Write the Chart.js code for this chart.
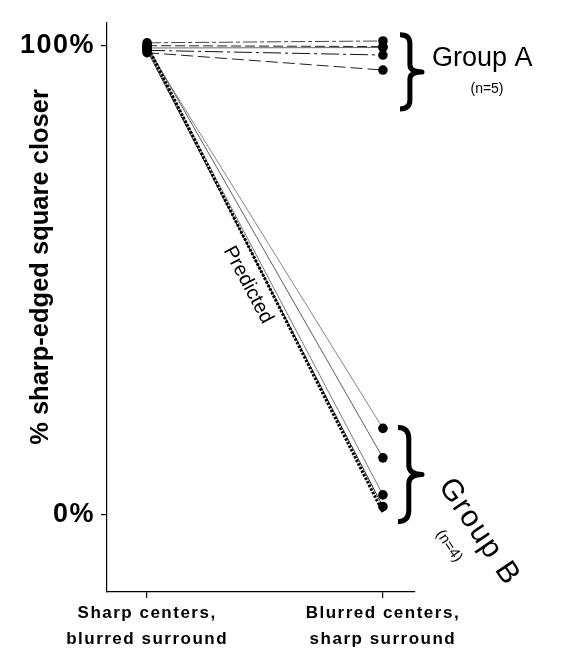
<!DOCTYPE html>
<html>
<head>
<meta charset="utf-8">
<script src="https://cdn.jsdelivr.net/npm/chart.js@4"></script>
<style>
  html, body { margin: 0; padding: 0; background: #fff; }
  #wrap { width: 563px; height: 660px; }
</style>
</head>
<body>
<div id="wrap"><canvas id="c" width="563" height="660"></canvas></div>
<script>
// ---- Data ----
const categories = [["Sharp centers,", "blurred surround"], ["Blurred centers,", "sharp surround"]];
const yTickValues = [0, 100];
const yTickLabels = ["0%", "100%"];
const yTitle = "% sharp-edged square closer";

// Group A (n=5): [condition 1, condition 2]
const groupA1 = [100.6, 101.0];
const groupA2 = [100.0, 99.8];
const groupA3 = [99.5, 99.6];
const groupA4 = [99.0, 98.0];
const groupA5 = [98.5, 94.8];
// Group B (n=4)
const groupB1 = [99.5, 18.4];
const groupB2 = [100.0, 12.1];
const groupB3 = [99.5, 4.2];
const groupB4 = [99.0, 1.7];
// Predicted
const predicted = [100, 0.5];

const FONT = "'Liberation Sans', Arial, Helvetica, sans-serif";

function toPts(arr) { return arr.map((v, i) => ({ x: i, y: v })); }

function lineDs(arr, opts) {
  return Object.assign({
    data: toPts(arr),
    borderColor: '#111',
    borderWidth: 1,
    pointRadius: 4.8,
    pointBackgroundColor: '#000',
    pointBorderWidth: 0,
    showLine: true,
    fill: false,
    tension: 0
  }, opts);
}

const datasets = [
  lineDs(predicted, { borderWidth: 3, borderDash: [2.5, 1.5], pointRadius: 0, borderColor: '#000' }),
  lineDs(groupA1, { borderDash: [14, 3, 4, 3], borderColor: '#444' }),
  lineDs(groupA2, { borderDash: [10, 4], borderColor: '#222' }),
  lineDs(groupA3, { borderDash: [], borderColor: '#666' }),
  lineDs(groupA4, { borderDash: [18, 4, 3, 4], borderColor: '#111' }),
  lineDs(groupA5, { borderDash: [12, 5], borderColor: '#222' }),
  lineDs(groupB1, { borderWidth: 0.8, borderColor: '#666' }),
  lineDs(groupB2, { borderWidth: 0.8, borderColor: '#333' }),
  lineDs(groupB3, { borderWidth: 0.8, borderColor: '#555' }),
  lineDs(groupB4, { borderWidth: 1, borderColor: '#222' })
];

function drawBrace(ctx, x0, y1, y2, w) {
  const h = y2 - y1;
  const xm = x0 + w * 0.45;
  const ym = (y1 + y2) / 2;
  ctx.beginPath();
  ctx.moveTo(x0, y1);
  ctx.quadraticCurveTo(xm, y1, xm, y1 + h * 0.12);
  ctx.lineTo(xm, ym - h * 0.1);
  ctx.quadraticCurveTo(xm, ym, x0 + w, ym);
  ctx.quadraticCurveTo(xm, ym, xm, ym + h * 0.1);
  ctx.lineTo(xm, y2 - h * 0.12);
  ctx.quadraticCurveTo(xm, y2, x0, y2);
  ctx.stroke();
}

const spacing = {
  id: 'spacing',
  beforeDraw(chart) { chart.ctx.letterSpacing = '1.5px'; },
  beforeDatasetsDraw(chart) { chart.ctx.letterSpacing = '0px'; }
};

const annot = {
  id: 'annot',
  afterDraw(chart) {
    const ctx = chart.ctx;
    const xs = chart.scales.x, ys = chart.scales.y;
    const xr = xs.getPixelForValue(1);
    ctx.save();
    ctx.letterSpacing = '0px';
    ctx.fillStyle = '#000';
    ctx.strokeStyle = '#000';
    ctx.lineWidth = 5;
    ctx.lineCap = 'butt';
    ctx.lineJoin = 'round';
    // Braces
    drawBrace(ctx, 400, ys.getPixelForValue(102.3), ys.getPixelForValue(86.5), 22);
    drawBrace(ctx, 398, ys.getPixelForValue(18.6), ys.getPixelForValue(-1.5), 24);

    // Group A labels
    ctx.textBaseline = 'alphabetic';
    ctx.textAlign = 'left';
    ctx.font = '27px ' + FONT;
    ctx.fillText('Group A', 432, 66);
    ctx.textAlign = 'center';
    ctx.font = '14px ' + FONT;
    ctx.fillText('(n=5)', 487, 93);

    // Group B labels (rotated)
    ctx.save();
    ctx.translate(479, 532);
    ctx.rotate(56 * Math.PI / 180);
    ctx.textAlign = 'center';
    ctx.textBaseline = 'middle';
    ctx.font = '30px ' + FONT;
    ctx.letterSpacing = '1.5px';
    ctx.fillText('Group B', 0, 0);
    ctx.restore();

    ctx.save();
    ctx.translate(449, 546);
    ctx.rotate(56 * Math.PI / 180);
    ctx.textAlign = 'center';
    ctx.textBaseline = 'middle';
    ctx.font = '15px ' + FONT;
    ctx.fillText('(n=4)', 0, 0);
    ctx.restore();

    // Predicted
    ctx.save();
    ctx.translate(248, 285);
    ctx.rotate(62 * Math.PI / 180);
    ctx.textAlign = 'center';
    ctx.textBaseline = 'middle';
    ctx.font = '20px ' + FONT;
    ctx.fillText('Predicted', 0, 0);
    ctx.restore();

    // Y-axis title
    ctx.save();
    ctx.translate(41, 267);
    ctx.rotate(-Math.PI / 2);
    ctx.textAlign = 'center';
    ctx.textBaseline = 'middle';
    ctx.font = 'bold 25.5px ' + FONT;
    ctx.fillText(yTitle, 0, 0);
    ctx.restore();

    ctx.restore();
  }
};

new Chart(document.getElementById('c'), {
  type: 'scatter',
  data: { datasets },
  plugins: [spacing, annot],
  options: {
    responsive: false,
    animation: false,
    devicePixelRatio: 1,
    layout: { padding: { left: 0, right: 148, top: 18, bottom: 0 } },
    plugins: { legend: { display: false }, tooltip: { enabled: false } },
    scales: {
      x: {
        type: 'linear',
        min: -0.17,
        max: 1.136,
        afterBuildTicks(scale) { scale.ticks = [{ value: 0 }, { value: 1 }]; },
        afterFit(scale) { scale.height = 68; },
        grid: { drawOnChartArea: false, drawTicks: true, tickLength: 6, color: '#000', lineWidth: 1.2 },
        border: { display: true, color: '#000', width: 1.2 },
        ticks: {
          color: '#000',
          padding: 3,
          font: { family: FONT, size: 17, weight: 'bold', lineHeight: 1.5 },
          maxRotation: 0,
          autoSkip: false,
          callback: (v) => categories[Math.round(v)]
        }
      },
      y: {
        type: 'linear',
        min: -16.5,
        max: 105,
        afterBuildTicks(scale) { scale.ticks = yTickValues.map(v => ({ value: v })); },
        afterFit(scale) { scale.width = 107; },
        grid: { drawOnChartArea: false, drawTicks: true, tickLength: 6, color: '#000', lineWidth: 1.2 },
        border: { display: true, color: '#000', width: 1.2 },
        ticks: {
          color: '#000',
          padding: 6,
          font: { family: FONT, size: 27, weight: 'bold' },
          callback: (v) => yTickLabels[yTickValues.indexOf(v)]
        }
      }
    }
  }
});
</script>
</body>
</html>
